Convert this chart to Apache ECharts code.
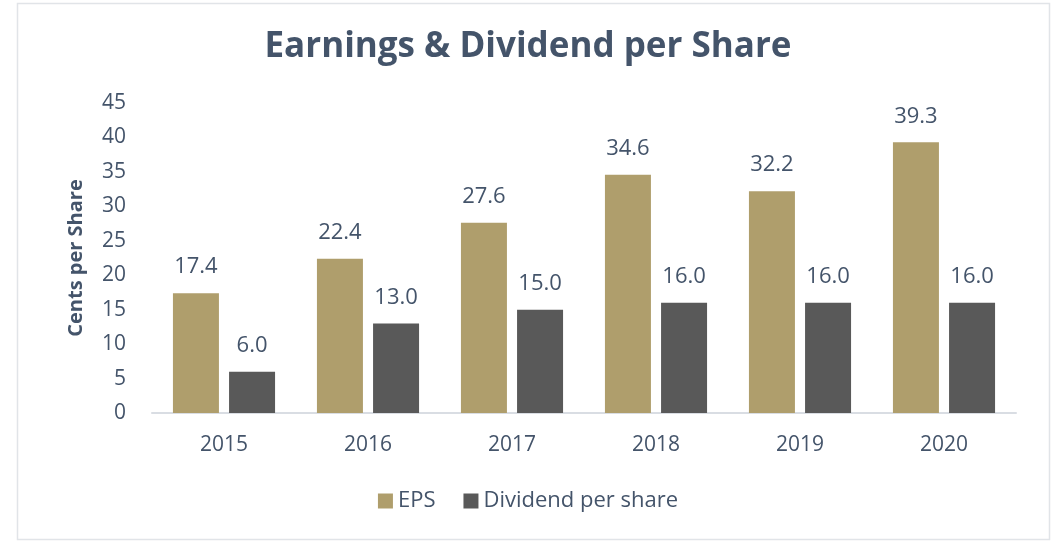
<!DOCTYPE html>
<html>
<head>
<meta charset="utf-8">
<script src="https://cdn.jsdelivr.net/npm/echarts@6/dist/echarts.min.js"></script>
<style>
  html, body { margin: 0; padding: 0; background: #fff; }
  #main { width: 1056px; height: 541px; }
</style>
</head>
<body>
<div id="main"></div>
<script>
const years = ["2015", "2016", "2017", "2018", "2019", "2020"];
const eps = [17.4, 22.4, 27.6, 34.6, 32.2, 39.3];
const dividend = [6.0, 13.0, 15.0, 16.0, 16.0, 16.0];

const textColor = "#44546A";
const font = "Open Sans";

const chart = echarts.init(document.getElementById("main"));
chart.setOption({
  animation: false,
  textStyle: { fontFamily: font },
  graphic: [
    {
      type: "rect",
      shape: { x: 17.5, y: 3.5, width: 1032, height: 536 },
      style: { fill: "none", stroke: "#E1E4E8", lineWidth: 1.5 },
      silent: true,
    },
  ],
  title: {
    text: "Earnings & Dividend per Share",
    left: "center",
    top: 25,
    textStyle: { color: textColor, fontSize: 35, fontWeight: "bold", fontFamily: font },
  },
  legend: {
    bottom: 24,
    left: "center",
    itemWidth: 15,
    itemHeight: 15,
    itemGap: 28,
    icon: "rect",
    textStyle: { color: textColor, fontSize: 22, fontFamily: font },
    data: ["EPS", "Dividend per share"],
  },
  grid: { left: 152, right: 40, top: 103, bottom: 128 },
  xAxis: {
    type: "category",
    data: years,
    axisLine: { lineStyle: { color: "#D9DDE3", width: 2 } },
    axisTick: { show: false },
    axisLabel: { color: textColor, fontSize: 21, margin: 22 },
  },
  yAxis: {
    type: "value",
    min: 0,
    max: 45,
    interval: 5,
    name: "Cents per Share",
    nameLocation: "middle",
    nameGap: 66,
    nameTextStyle: { color: textColor, fontSize: 20, fontWeight: "bold" },
    splitLine: { show: false },
    axisLine: { show: false },
    axisLabel: { color: textColor, fontSize: 21, margin: 26 },
  },
  series: [
    {
      name: "EPS",
      type: "bar",
      data: eps,
      barWidth: 46,
      barGap: "22%",
      itemStyle: { color: "#AF9E6C" },
      label: {
        show: true,
        position: "top",
        distance: 15,
        color: textColor,
        fontSize: 22,
        formatter: (p) => p.value.toFixed(1),
      },
    },
    {
      name: "Dividend per share",
      type: "bar",
      data: dividend,
      barWidth: 46,
      itemStyle: { color: "#595959" },
      label: {
        show: true,
        position: "top",
        distance: 15,
        color: textColor,
        fontSize: 22,
        formatter: (p) => p.value.toFixed(1),
      },
    },
  ],
});
</script>
</body>
</html>
